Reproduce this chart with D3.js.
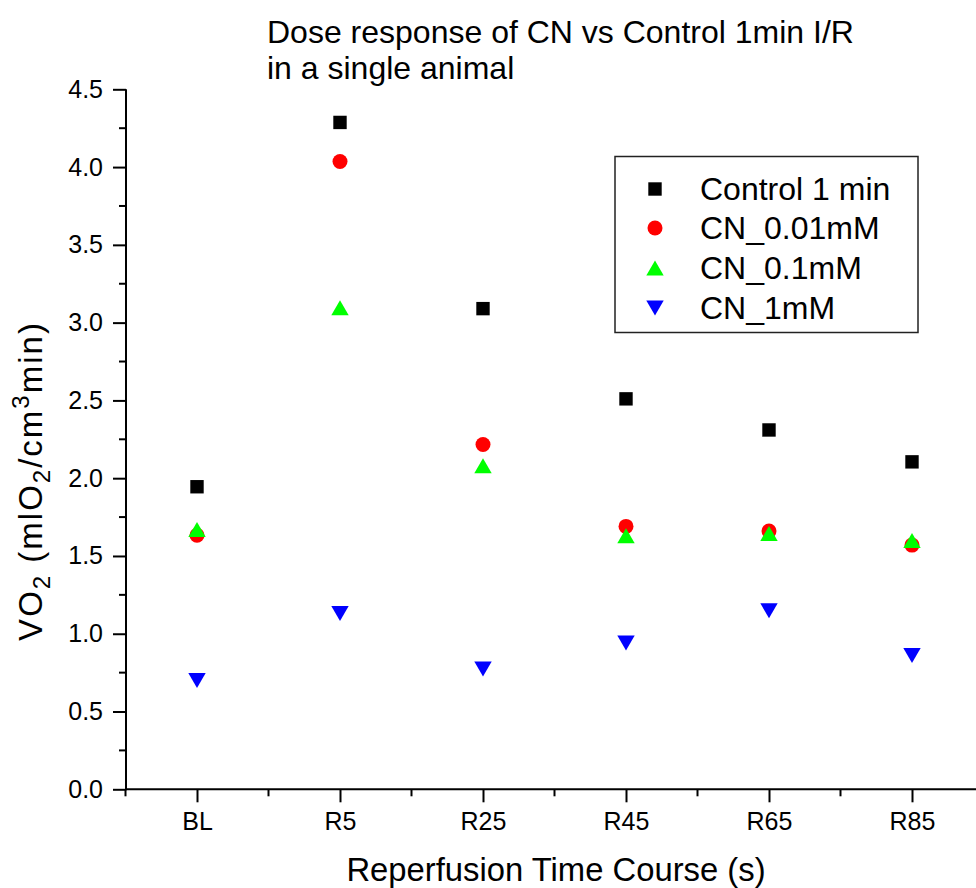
<!DOCTYPE html>
<html><head><meta charset="utf-8">
<script src="https://cdn.jsdelivr.net/npm/d3@7"></script>
<style>
html,body{margin:0;padding:0;background:#fff;}
svg{display:block;font-family:"Liberation Sans",Arial,sans-serif;}
</style></head>
<body>
<svg id="chart" width="976" height="888"></svg>
<script>
const categories = ["BL","R5","R25","R45","R65","R85"];
const control1min = [1.945, 4.287, 3.09, 2.51, 2.31, 2.105];
const cn001mM = [1.633, 4.036, 2.217, 1.69, 1.66, 1.57];
const cn01mM = [1.67, 3.096, 2.08, 1.63, 1.645, 1.60];
const cn1mM = [0.70, 1.13, 0.774, 0.94, 1.148, 0.86];
const seriesNames = ["Control 1 min","CN_0.01mM","CN_0.1mM","CN_1mM"];
const yTicks = [0,0.5,1,1.5,2,2.5,3,3.5,4,4.5];

const svg = d3.select("#chart");
const x = d3.scaleLinear().domain([-0.5, 5.5]).range([125.5, 983.5]);
const y = d3.scaleLinear().domain([0, 4.5]).range([789.3, 89.3]);

const series = [
  {name: seriesNames[0], values: control1min, color: "#000000", shape: "square"},
  {name: seriesNames[1], values: cn001mM, color: "#ff0000", shape: "circle"},
  {name: seriesNames[2], values: cn01mM, color: "#00ff00", shape: "up"},
  {name: seriesNames[3], values: cn1mM, color: "#0000ff", shape: "down"}
];

function shapePath(shape){
  if (shape === "square"){ const s=6.7; return `M${-s},${-s}H${s}V${s}H${-s}Z`; }
  if (shape === "circle"){ const r=7.5; return `M${r},0A${r},${r} 0 1,1 ${-r},0A${r},${r} 0 1,1 ${r},0Z`; }
  if (shape === "up"){ return "M0,-7.5L8.7,7.5L-8.7,7.5Z"; }
  return "M0,7.5L8.7,-7.5L-8.7,-7.5Z";
}

// Y axis
const yAxis = d3.axisLeft(y).tickValues(yTicks).tickFormat(d3.format(".1f")).tickSize(13).tickPadding(10);
const gy = svg.append("g").attr("transform","translate(126,0)").call(yAxis);
gy.attr("font-family", null).attr("font-size", null);
gy.select(".domain").attr("d", `M0,${y(4.5)}V${y(0)+1}`).attr("stroke","#000").attr("stroke-width",2);
gy.selectAll(".tick line").attr("stroke","#000").attr("stroke-width",2);
gy.selectAll(".tick text").attr("font-size",25).attr("fill","#000");
// minor y ticks
const yMinor = d3.range(0.25, 4.5, 0.5);
svg.append("g").selectAll("line").data(yMinor).join("line")
  .attr("x1",119).attr("x2",126).attr("y1",d=>y(d)).attr("y2",d=>y(d))
  .attr("stroke","#000").attr("stroke-width",2);

// X axis
const xAxis = d3.axisBottom(x).tickValues(d3.range(categories.length)).tickFormat(i=>categories[i]).tickSize(13).tickPadding(10);
const gx = svg.append("g").attr("transform",`translate(0,${y(0)})`).call(xAxis);
gx.attr("font-family", null).attr("font-size", null);
gx.select(".domain").attr("d", `M125,0H976`).attr("stroke","#000").attr("stroke-width",2);
gx.selectAll(".tick line").attr("stroke","#000").attr("stroke-width",2);
gx.selectAll(".tick text").attr("font-size",25).attr("fill","#000");
const xMinor = d3.range(-0.5, 5.6, 1);
svg.append("g").selectAll("line").data(xMinor).join("line")
  .attr("x1",d=>x(d)).attr("x2",d=>x(d)).attr("y1",y(0)).attr("y2",y(0)+7)
  .attr("stroke","#000").attr("stroke-width",2);

// Points
series.forEach(s=>{
  svg.append("g").selectAll("path").data(s.values).join("path")
    .attr("d", shapePath(s.shape))
    .attr("transform",(d,i)=>`translate(${x(i)},${y(d)})`)
    .attr("fill", s.color);
});

// Legend
const lg = svg.append("g");
lg.append("rect").attr("x",615).attr("y",156.5).attr("width",303).attr("height",176)
  .attr("fill","none").attr("stroke","#222").attr("stroke-width",1.5);
const legY = [189,228,268,308];
series.forEach((s,i)=>{
  lg.append("path").attr("d",shapePath(s.shape)).attr("transform",`translate(655,${legY[i]})`).attr("fill",s.color);
  lg.append("text").attr("x",700).attr("y",legY[i]+11).attr("font-size",32).attr("fill","#000").text(s.name);
});

// Title
const t = svg.append("text").attr("x",267).attr("font-size",32).attr("fill","#000");
t.append("tspan").attr("x",267).attr("y",43).text("Dose response of CN vs Control 1min I/R");
t.append("tspan").attr("x",267).attr("y",79).text("in a single animal");

// Axis titles
svg.append("text").attr("x",556).attr("y",881).attr("text-anchor","middle").attr("font-size",32.8).attr("fill","#000")
  .text("Reperfusion Time Course (s)");
const yt = svg.append("text").attr("transform","translate(42,481) rotate(-90)").attr("text-anchor","middle")
  .attr("font-size",33).attr("letter-spacing",2).attr("fill","#000");
yt.append("tspan").text("VO");
yt.append("tspan").attr("font-size",24).attr("dy",8).text("2");
yt.append("tspan").attr("dy",-8).text(" (mlO");
yt.append("tspan").attr("font-size",24).attr("dy",8).text("2");
yt.append("tspan").attr("dy",-8).text("/cm");
yt.append("tspan").attr("font-size",24).attr("dy",-13).text("3");
yt.append("tspan").attr("dy",13).text("min)");
</script>
</body></html>
